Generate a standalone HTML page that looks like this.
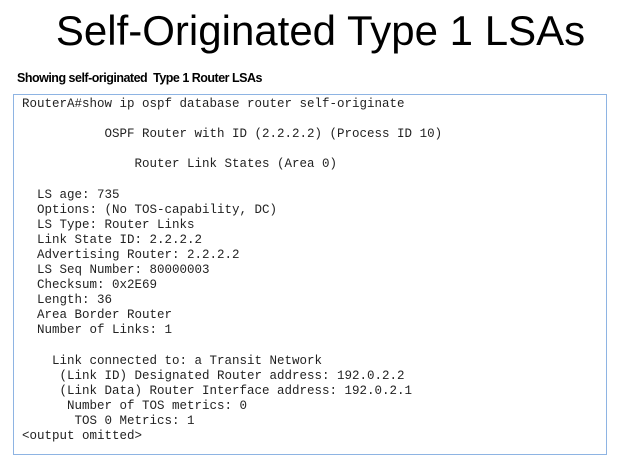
<!DOCTYPE html>
<html><head><meta charset="utf-8"><style>
body{margin:0;width:641px;height:461px;background:#fff;position:relative;overflow:hidden;font-family:"Liberation Sans",sans-serif;}
.t{position:absolute;left:0;width:641px;top:6px;text-align:center;font-size:42px;line-height:50px;color:#000;}
.s{position:absolute;left:17px;top:71px;font-size:12.5px;font-weight:bold;letter-spacing:-0.5px;}
.box{position:absolute;left:13px;top:94px;width:592px;height:359px;border:1px solid #8eb4e3;}
pre{position:absolute;left:22px;top:97px;margin:0;font-family:"Liberation Mono",monospace;font-size:12.5px;line-height:15.1px;color:#222;}
</style></head><body>
<div class="t">Self-Originated Type 1 LSAs</div>
<div class="s">Showing self-originated&nbsp; Type 1 Router LSAs</div>
<div class="box"></div>
<pre>RouterA#show ip ospf database router self-originate

           OSPF Router with ID (2.2.2.2) (Process ID 10)

               Router Link States (Area 0)

  LS age: 735
  Options: (No TOS-capability, DC)
  LS Type: Router Links
  Link State ID: 2.2.2.2
  Advertising Router: 2.2.2.2
  LS Seq Number: 80000003
  Checksum: 0x2E69
  Length: 36
  Area Border Router
  Number of Links: 1

    Link connected to: a Transit Network
     (Link ID) Designated Router address: 192.0.2.2
     (Link Data) Router Interface address: 192.0.2.1
      Number of TOS metrics: 0
       TOS 0 Metrics: 1
&lt;output omitted&gt;</pre>
</body></html>
